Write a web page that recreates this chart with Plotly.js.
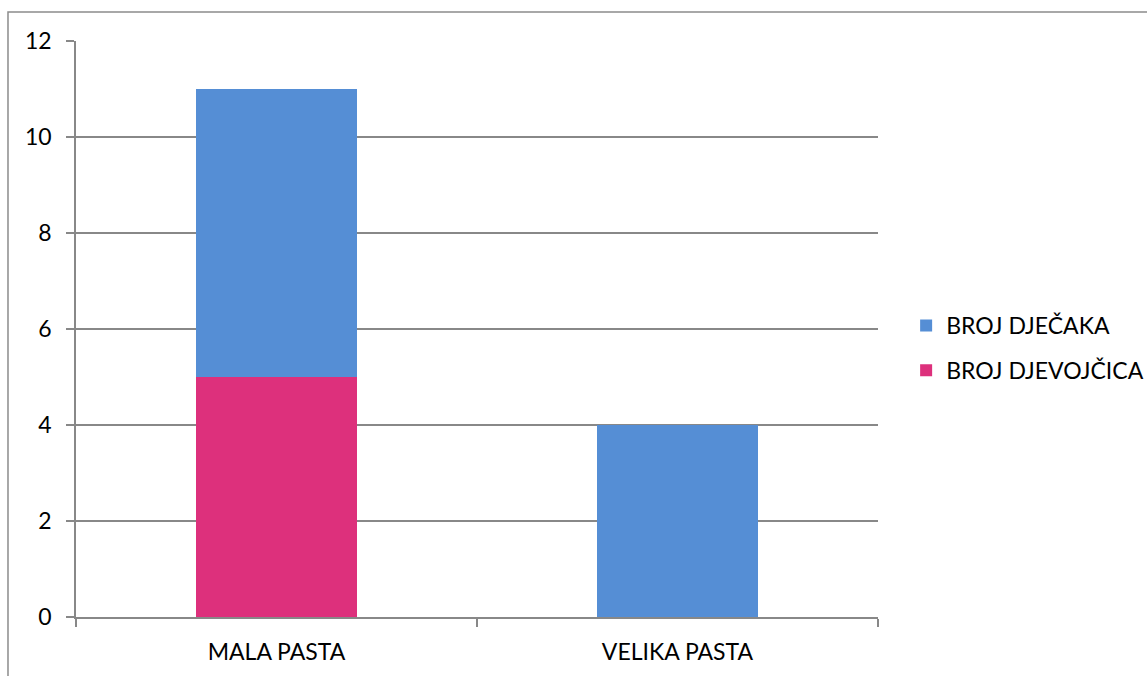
<!DOCTYPE html>
<html>
<head>
<meta charset="utf-8">
<script src="https://cdn.plot.ly/plotly-3.0.1.min.js"></script>
<style>html,body{margin:0;padding:0;background:#fff;}#chart{width:1147px;height:676px;}</style>
</head>
<body>
<div id="chart"></div>
<script>
const categories = ["MALA PASTA", "VELIKA PASTA"];
const girls = [5, 0];
const boys = [6, 4];
const seriesNames = ["BROJ DJEVOJČICA", "BROJ DJEČAKA"];
const yTicks = [0, 2, 4, 6, 8, 10, 12];

const font = {family: "Lato, Open Sans, sans-serif", size: 23, color: "#000"};
const data = [
  {type: "bar", x: categories, y: girls, name: seriesNames[0], legendgroup: "g", legendrank: 2, marker: {color: "#DD307C"}},
  {type: "bar", x: categories, y: boys, name: seriesNames[1], legendgroup: "b", legendrank: 1, marker: {color: "#558ED5"}}
];
const layout = {
  width: 1147, height: 676,
  margin: {l: 76, r: 269, t: 41, b: 59, autoexpand: false},
  barmode: "stack", bargap: 0.6,
  paper_bgcolor: "#fff", plot_bgcolor: "#fff",
  font: font,
  showlegend: true,
  legend: {xref: "container", yref: "container", x: 0.79, y: 1 - 348/676, xanchor: "left", yanchor: "middle", traceorder: "grouped", font: font, tracegroupgap: 12, itemwidth: 30},
  xaxis: {showline: true, linecolor: "#888", linewidth: 1.5, ticks: "outside", tickson: "boundaries", ticklen: 8, tickcolor: "#888", tickwidth: 1.5, showgrid: false, zeroline: false, tickfont: font, ticklabelstandoff: 14},
  yaxis: {range: [0, 12], tickvals: yTicks, showline: true, linecolor: "#888", linewidth: 1.5, ticks: "outside", ticklen: 8, tickcolor: "#888", tickwidth: 1.5, showgrid: true, gridcolor: "#888", gridwidth: 1.5, zeroline: false, tickfont: font, ticklabelstandoff: 10},
  shapes: [
    {type: "rect", xref: "paper", yref: "paper", x0: -0.0848, x1: 1.36, y0: -0.15, y1: 1.0503, line: {color: "#8c8c8c", width: 1.5}, layer: "below"}
  ]
};
Plotly.newPlot("chart", data, layout, {displayModeBar: false});
</script>
</body>
</html>
